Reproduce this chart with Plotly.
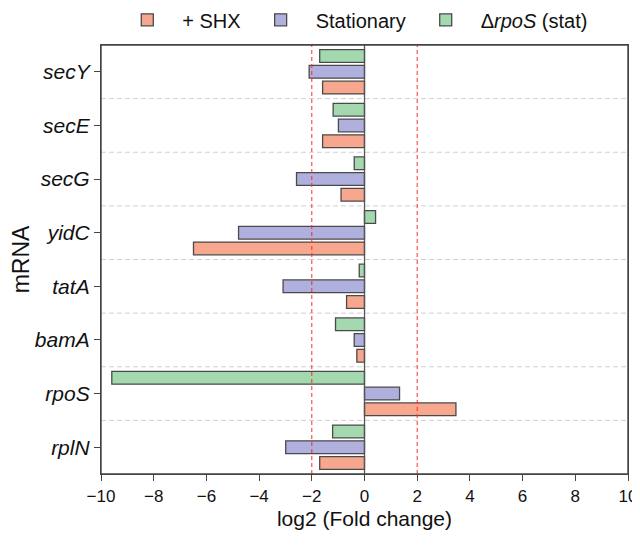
import plotly.graph_objects as go

genes = ["secY", "secE", "secG", "yidC", "tatA", "bamA", "rpoS", "rplN"]
shx = [-1.59, -1.59, -0.89, -6.49, -0.68, -0.29, 3.47, -1.70]
stationary = [-2.10, -0.99, -2.58, -4.78, -3.09, -0.39, 1.33, -2.99]
rpos_stat = [-1.70, -1.19, -0.39, 0.42, -0.20, -1.10, -9.59, -1.21]

series_names = ["+ SHX", "Stationary", "Δ<i>rpoS</i> (stat)"]
series_values = [shx, stationary, rpos_stat]
colors = ["#F7A78D", "#B0B0DE", "#A4D9AF"]

x_ticks = [-10, -8, -6, -4, -2, 0, 2, 4, 6, 8, 10]
threshold_lines = [-2, 2]

FONT = "Liberation Sans, Arial, Helvetica, sans-serif"
labels = [f"<i>{g}</i>" for g in genes]

fig = go.Figure()
for name, vals, col in zip(series_names, series_values, colors):
    fig.add_trace(go.Bar(
        y=labels, x=vals, name=name, orientation="h",
        marker=dict(color=col, line=dict(color="#4a4a4a", width=1.3)),
    ))

# dashed separators between categories
for k in range(len(genes) - 1):
    fig.add_shape(type="line", xref="paper", x0=0, x1=1, yref="y",
                  y0=k + 0.5, y1=k + 0.5,
                  line=dict(color="#d0d0d0", width=1, dash="5px,3px"), layer="below")

for t in threshold_lines:
    fig.add_shape(type="line", xref="x", x0=t, x1=t, yref="paper", y0=0, y1=1,
                  line=dict(color="#ff2a2a", width=1, dash="4px,3px"), layer="above")

fig.add_shape(type="line", xref="x", x0=0, x1=0, yref="paper", y0=0, y1=1,
              line=dict(color="#555555", width=1.3), layer="above")

# plot frame
fig.add_shape(type="rect", xref="paper", yref="paper", x0=0, x1=1, y0=0, y1=1,
              line=dict(color="#444444", width=1.4), fillcolor="rgba(0,0,0,0)", layer="above")

fig.update_layout(
    width=632, height=538,
    margin=dict(l=93, r=12, t=37, b=72, autoexpand=False),
    paper_bgcolor="white", plot_bgcolor="white",
    barmode="group", bargap=0.12, bargroupgap=0.19,
    font=dict(family=FONT, color="#111111"),
    showlegend=True,
    legend=dict(orientation="h", xref="container", yref="container",
                x=0.165, xanchor="left", y=0.978, yanchor="middle",
                font=dict(size=20, family=FONT), traceorder="normal",
                itemwidth=60, bgcolor="rgba(0,0,0,0)"),
    xaxis=dict(range=[-10, 10], tickvals=x_ticks, ticks="outside", ticklen=6,
               tickcolor="#444444", tickwidth=1.3,
               showline=True, linecolor="#444444", linewidth=1.3, mirror=True,
               showgrid=False, zeroline=False,
               tickfont=dict(size=17, family=FONT, color="#111111"),
               title=dict(text="log2 (Fold change)", font=dict(size=21, family=FONT), standoff=6)),
    yaxis=dict(type="category", categoryorder="array", categoryarray=labels[::-1],
               range=[-0.5, len(genes) - 0.5],
               ticks="outside", ticklen=6, tickcolor="#444444", tickwidth=1.3,
               showline=True, linecolor="#444444", linewidth=1.3, mirror=True,
               showgrid=False, zeroline=False,
               tickfont=dict(size=21, family=FONT, color="#111111"),
               title=dict(text="mRNA", font=dict(size=23, family=FONT), standoff=8)),
)

fig.write_html("out.html")
